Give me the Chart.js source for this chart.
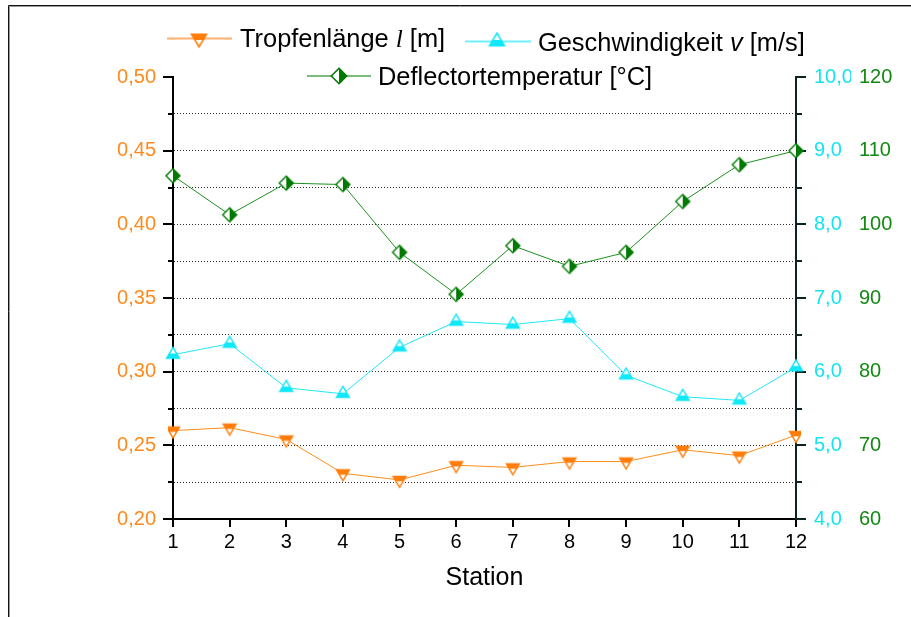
<!DOCTYPE html>
<html><head><meta charset="utf-8">
<script src="https://cdn.jsdelivr.net/npm/chart.js@4.4.1/dist/chart.umd.min.js"></script>
<style>html,body{margin:0;padding:0;background:#fff;}canvas{display:block;}</style>
</head><body>
<canvas id="c" width="911" height="617"></canvas>
<script>
// ---- data ----
const stations = ['1','2','3','4','5','6','7','8','9','10','11','12'];
const tropfenlaenge = [0.260, 0.262, 0.254, 0.231, 0.2265, 0.2365, 0.235, 0.239, 0.239, 0.247, 0.243, 0.257];
const geschwindigkeit = [6.23, 6.38, 5.78, 5.70, 6.33, 6.68, 6.64, 6.72, 5.95, 5.66, 5.61, 6.06];
const deflectorTemp = [106.6, 101.3, 105.6, 105.4, 96.2, 90.5, 97.1, 94.3, 96.2, 103.1, 108.1, 110.0];
const leftTickLabels = ['0,20','0,25','0,30','0,35','0,40','0,45','0,50'];
const cyanTickLabels = ['4,0','5,0','6,0','7,0','8,0','9,0','10,0'];
const greenTickLabels = ['60','70','80','90','100','110','120'];
const legend1 = ['Tropfenlänge ', 'l', ' [m]'];
const legend2 = ['Geschwindigkeit ', 'v', ' [m/s]'];
const legend3 = ['Deflectortemperatur [°C]'];
const xTitle = 'Station';

// ---- styles ----
const ORANGE = '#ff8a1c', CYAN = '#14e4f2', GREEN = '#128a12';
const SANS = '"Liberation Sans", Arial, sans-serif';
const LEG = 25.4;

function markerCanvas(kind, color, scale) {
  scale = scale || 1;
  const s = Math.round(20 * scale), c = document.createElement('canvas');
  c.width = s; c.height = s;
  const g = c.getContext('2d');
  const cx = s / 2, cy = s / 2;
  let pts, band;
  if (kind === 'down') {
    const h = 11 * scale, w = 13 * scale, top = cy - h / 3, bot = cy + 2 * h / 3;
    pts = [[cx - w / 2, top], [cx + w / 2, top], [cx, bot]];
    band = [0, top - 1, s, h * 0.45 + 1];
  } else if (kind === 'up') {
    const h = 11 * scale, w = 13 * scale, top = cy - 2 * h / 3, bot = cy + h / 3;
    pts = [[cx - w / 2, bot], [cx + w / 2, bot], [cx, top]];
    band = [0, bot - h * 0.45, s, h * 0.45 + 1];
  } else {
    const r = 7 * scale;
    pts = [[cx, cy - r], [cx + r, cy], [cx, cy + r], [cx - r, cy]];
    band = [cx, 0, s, s];
  }
  const path = () => { g.beginPath(); g.moveTo(pts[0][0], pts[0][1]); for (let i = 1; i < pts.length; i++) g.lineTo(pts[i][0], pts[i][1]); g.closePath(); };
  g.fillStyle = '#fff'; path(); g.fill();
  g.save(); path(); g.clip(); g.fillStyle = color; g.fillRect(band[0], band[1], band[2], band[3]); g.restore();
  g.lineWidth = 1.4 * scale; g.strokeStyle = color; g.lineJoin = 'miter'; path(); g.stroke();
  return c;
}
const mkOrange = markerCanvas('down', '#ff7d0a');
const mkCyan = markerCanvas('up', '#10e8f8');
const mkGreen = markerCanvas('diamond', '#007a00');

const framePlugin = {
  id: 'frameLegend',
  beforeDatasetsDraw(chart) {
    const ctx = chart.ctx, yl = chart.scales.yL, yc = chart.scales.yC;
    ctx.save();
    ctx.lineWidth = 2;
    ctx.strokeStyle = '#000';
    yl.ticks.forEach((t, i) => {
      const y = Math.round(yl.getPixelForValue(t.value));
      const len = i % 2 === 0 ? 10 : 5;
      ctx.beginPath(); ctx.moveTo(yl.right - len, y); ctx.lineTo(yl.right, y); ctx.stroke();
    });
    ctx.strokeStyle = '#0a2424';
    yc.ticks.forEach((t, i) => {
      const y = Math.round(yc.getPixelForValue(t.value));
      const len = i % 2 === 0 ? 10 : 6;
      ctx.beginPath(); ctx.moveTo(yc.left, y); ctx.lineTo(yc.left + len, y); ctx.stroke();
    });
    ctx.restore();
  },
  afterDraw(chart) {
    const ctx = chart.ctx;
    ctx.save();
    // outer frame (top and left)
    ctx.lineWidth = 1;
    ctx.strokeStyle = '#999';
    ctx.beginPath(); ctx.moveTo(9.5, 617); ctx.lineTo(9.5, 6.5); ctx.lineTo(911, 6.5); ctx.stroke();
    ctx.strokeStyle = '#111';
    ctx.beginPath(); ctx.moveTo(8.5, 617); ctx.lineTo(8.5, 5.5); ctx.lineTo(911, 5.5); ctx.stroke();

    // legend
    const seg = (x1, x2, y, col) => { ctx.lineWidth = 2; ctx.strokeStyle = col; ctx.beginPath(); ctx.moveTo(x1, y); ctx.lineTo(x2, y); ctx.stroke(); };
    const drawParts = (parts, x, y, italicFont) => {
      ctx.fillStyle = '#000'; ctx.textBaseline = 'alphabetic'; ctx.textAlign = 'left';
      parts.forEach((p, i) => {
        ctx.font = (i === 1) ? italicFont : LEG + 'px ' + SANS;
        ctx.fillText(p, x, y);
        x += ctx.measureText(p).width;
      });
    };
    const lo = markerCanvas('down', '#ff7d0a', 1.15), lc = markerCanvas('up', '#10e8f8', 1.15), lg = markerCanvas('diamond', '#007a00', 1.1);
    seg(167, 232, 38.5, '#ffb070');
    ctx.drawImage(lo, 199 - lo.width / 2, 38.5 - lo.height / 2);
    drawParts(legend1, 240, 47, 'italic ' + LEG + 'px "Liberation Serif", "DejaVu Serif", serif');
    seg(465, 531, 41.5, '#70f0ff');
    ctx.drawImage(lc, 497 - lc.width / 2, 41.5 - lc.height / 2);
    drawParts(legend2, 538, 51, 'italic ' + LEG + 'px ' + SANS);
    seg(307, 371, 76, '#7dbb7d');
    ctx.drawImage(lg, 339 - lg.width / 2, 76 - lg.height / 2);
    drawParts(legend3, 378, 85, '');
    ctx.restore();
  }
};

new Chart(document.getElementById('c'), {
  type: 'line',
  data: {
    labels: stations,
    datasets: [
      { label: 'Deflectortemperatur [°C]', data: deflectorTemp, yAxisID: 'yG', borderColor: '#1e901e', borderWidth: 1,
        pointStyle: mkGreen, clip: false, tension: 0 },
      { label: 'Geschwindigkeit v [m/s]', data: geschwindigkeit, yAxisID: 'yC', borderColor: '#22e8f6', borderWidth: 1,
        pointStyle: mkCyan, clip: false, tension: 0 },
      { label: 'Tropfenlänge l [m]', data: tropfenlaenge, yAxisID: 'yL', borderColor: '#ff8c1a', borderWidth: 1,
        pointStyle: mkOrange, tension: 0 }
    ]
  },
  options: {
    responsive: false,
    animation: false,
    layout: { padding: { top: 77, left: 0, right: 0, bottom: 0 } },
    plugins: { legend: { display: false }, tooltip: { enabled: false } },
    scales: {
      x: {
        type: 'category',
        grid: { display: true, drawOnChartArea: false, drawTicks: true, tickLength: 8, color: '#000', lineWidth: 2, tickWidth: 2 },
        border: { display: true, color: '#000', width: 2 },
        ticks: { color: '#000', font: { family: SANS, size: 20 }, padding: 3, maxRotation: 0, autoSkip: false },
        title: { display: true, text: xTitle, color: '#000', font: { family: SANS, size: 25 }, padding: { top: 0, bottom: 24 } },
        afterFit(s) { s.height = 98; }
      },
      yL: {
        position: 'left', min: 0.2, max: 0.5,
        grid: { color: (c) => (c.index === 0 || c.index === 12) ? 'rgba(0,0,0,0)' : '#2e2e2e', lineWidth: 1,
                drawTicks: true, tickLength: 10, tickColor: 'rgba(0,0,0,0)' },
        border: { display: true, color: '#000', width: 2, dash: [1, 2] },
        ticks: { stepSize: 0.025, autoSkip: false, color: ORANGE, font: { family: SANS, size: 20 }, padding: 7,
                 callback: (v, i) => (i % 2 === 0 ? leftTickLabels[i / 2] : '') },
        afterFit(s) { s.width = 173; }
      },
      yC: {
        position: 'right', weight: 0, min: 4, max: 10,
        grid: { drawOnChartArea: false, drawTicks: true, tickLength: 10, tickColor: 'rgba(0,0,0,0)' },
        border: { display: true, color: '#0a2424', width: 2 },
        ticks: { stepSize: 0.5, autoSkip: false, color: CYAN, font: { family: SANS, size: 20 }, padding: 8,
                 callback: (v, i) => (i % 2 === 0 ? cyanTickLabels[i / 2] : '') },
        afterFit(s) { s.width = 55; }
      },
      yG: {
        position: 'right', weight: 1, min: 60, max: 120,
        grid: { display: false, drawOnChartArea: false, drawTicks: false },
        border: { display: false },
        ticks: { stepSize: 10, autoSkip: false, color: GREEN, font: { family: SANS, size: 20 }, padding: 8,
                 callback: (v, i) => greenTickLabels[i] },
        afterFit(s) { s.width = 60; }
      }
    }
  },
  plugins: [framePlugin]
});
</script>
</body></html>
